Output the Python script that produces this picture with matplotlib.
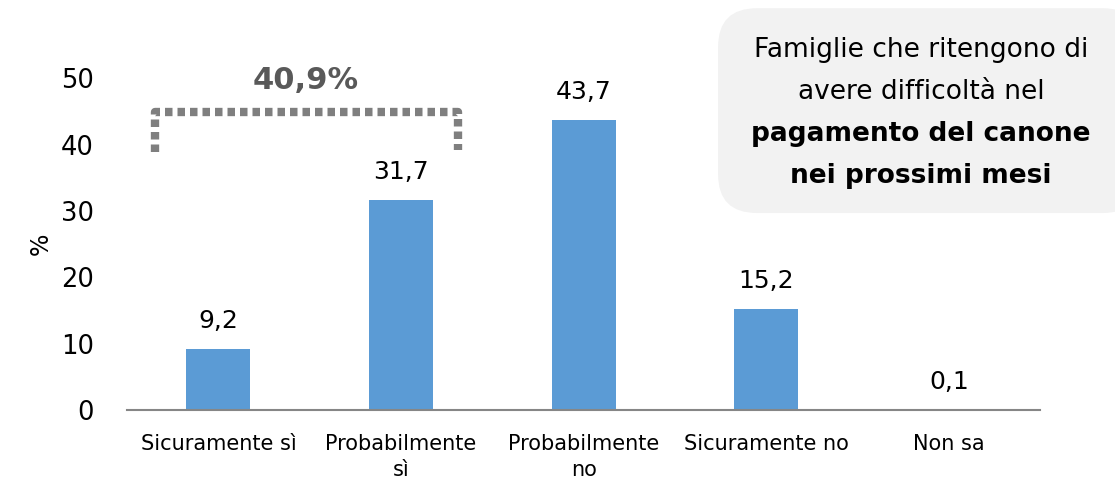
import numpy as np
import matplotlib.pyplot as plt
from matplotlib.patches import FancyBboxPatch

# Data
categories = ['Sicuramente sì', 'Probabilmente\nsì', 'Probabilmente\nno', 'Sicuramente no', 'Non sa']
values = [9.2, 31.7, 43.7, 15.2, 0.1]
value_labels = ['9,2', '31,7', '43,7', '15,2', '0,1']
yticks = [0, 10, 20, 30, 40, 50]
bracket_label = '40,9%'

plt.rcParams['font.family'] = ['DejaVu Sans']

fig = plt.figure(figsize=(11.15, 4.82), dpi=100)
ax = fig.add_axes([0.114, 0.149, 0.819, 0.689])

x = np.arange(len(categories))
ax.bar(x, values, width=0.35, color='#5b9bd5')
for xi, v, lab in zip(x, values, value_labels):
    ax.text(xi, v + 2.4, lab, ha='center', va='bottom', fontsize=18, color='#000000')

ax.set_xlim(-0.5, len(categories) - 0.5)
ax.set_ylim(0, 50)
ax.set_yticks(yticks)
ax.set_yticklabels([str(t) for t in yticks], fontsize=18.5)
ax.set_xticks(x)
ax.set_xticklabels(categories, fontsize=15, linespacing=1.4)
ax.tick_params(length=0, pad=17)
ax.tick_params(axis='y', pad=24)
for s in ['top', 'right', 'left']:
    ax.spines[s].set_visible(False)
ax.spines['bottom'].set_color('#868686')
ax.spines['bottom'].set_linewidth(1.5)
ax.set_ylabel('%', fontsize=17, labelpad=6)

# bracket over the first two bars
bx = [-0.347, -0.347, 1.31, 1.31]
by = [38.9, 44.9, 44.9, 39.1]
ax.plot(bx, by, color='#7f7f7f', linewidth=6, linestyle=(0, (0.9, 0.6)),
        clip_on=False, solid_capstyle='butt', dash_capstyle='butt')
ax.text(0.48, 49.6, bracket_label, ha='center', va='center', fontsize=22,
        fontweight='bold', color='#595959')

# callout box
box = FancyBboxPatch((0.644, 0.558), 0.38, 0.425, transform=fig.transFigure,
                     boxstyle='round,pad=0,rounding_size=0.035',
                     facecolor='#f2f2f2', edgecolor='none', mutation_aspect=2.3)
fig.patches.append(box)
cx = 0.826
fig.text(cx, 1 - 50 / 482, 'Famiglie che ritengono di', ha='center', va='center', fontsize=19)
fig.text(cx, 1 - 92 / 482, 'avere difficoltà nel', ha='center', va='center', fontsize=19)
fig.text(cx, 1 - 134 / 482, 'pagamento del canone', ha='center', va='center', fontsize=19, fontweight='bold')
fig.text(cx, 1 - 176 / 482, 'nei prossimi mesi', ha='center', va='center', fontsize=19, fontweight='bold')

fig.savefig('out.png', dpi=100)
